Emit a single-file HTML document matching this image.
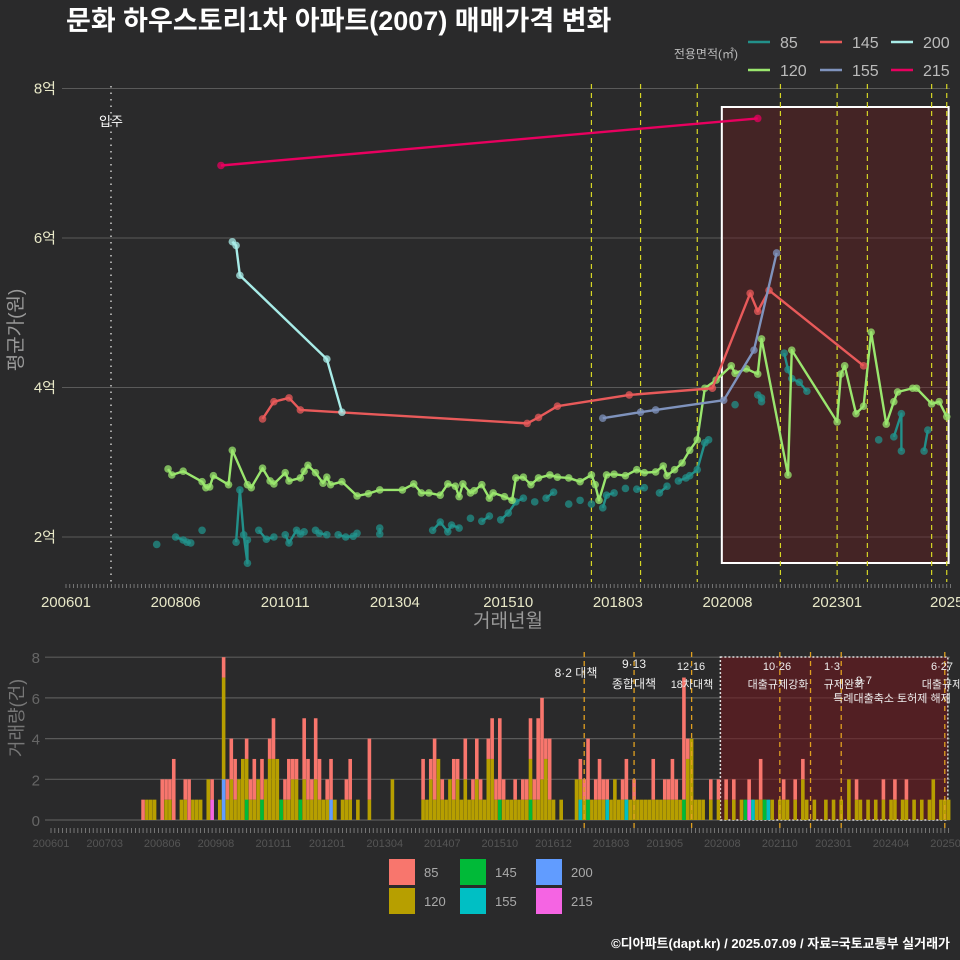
<!DOCTYPE html>
<html><head><meta charset="utf-8">
<style>
html,body{margin:0;padding:0;background:#2a2a2b;}
svg{display:block;font-family:"Liberation Sans","Noto Sans CJK KR",sans-serif;}
</style></head>
<body>
<svg id="c" width="960" height="960" viewBox="0 0 960 960" xmlns="http://www.w3.org/2000/svg">
<rect width="960" height="960" fill="#2a2a2b"/>
<text x="66" y="30" fill="#fff" font-size="27" font-weight="bold">문화 하우스토리1차 아파트(2007) 매매가격 변화</text>
<text x="950" y="948" fill="#fff" font-size="13" font-weight="bold" text-anchor="end">©디아파트(dapt.kr) / 2025.07.09 / 자료=국토교통부 실거래가</text>
<g id="gtop"></g>
<g id="gbot"></g>
<g id="gleg"></g>
</svg>
<script>
// ---- data (month index since 2006-01, value in 억) ----
const s215M=[41,183]; const s215V=[6.97,7.6];
const s200M=[44,45,46,69,73]; const s200V=[5.95,5.9,5.5,4.38,3.67];
const s145M=[52,55,59,62,122,125,130,149,171,181,183,186,211];
const s145V=[3.58,3.81,3.86,3.70,3.52,3.60,3.75,3.90,3.99,5.26,5.02,5.30,4.29];
const s155M=[142,152,156,174,182,188]; const s155V=[3.59,3.67,3.70,3.83,4.50,5.80];
const s120M=[27,28,31,36,37,38,39,43,44,48,49,52,54,55,58,59,62,63,64,66,68,69,70,73,77,80,83,89,92,94,96,99,101,103,104,105,107,108,110,112,113,116,118,119,121,123,125,128,130,133,136,139,140,141,143,145,148,151,153,156,158,159,161,163,165,167,169,172,176,177,180,183,184,191,192,204,205,206,209,211,213,217,219,220,224,225,229,231,233];
const s120V=[2.91,2.83,2.88,2.74,2.66,2.67,2.82,2.70,3.16,2.70,2.66,2.92,2.75,2.71,2.86,2.75,2.79,2.88,2.96,2.86,2.72,2.80,2.70,2.74,2.55,2.58,2.63,2.63,2.71,2.59,2.59,2.56,2.71,2.68,2.54,2.71,2.59,2.62,2.70,2.52,2.59,2.54,2.49,2.79,2.80,2.70,2.79,2.83,2.80,2.79,2.74,2.83,2.70,2.49,2.83,2.84,2.82,2.90,2.86,2.87,2.95,2.82,2.90,2.99,3.16,3.30,3.99,4.10,4.29,4.19,4.25,4.18,4.65,2.83,4.50,3.54,4.18,4.29,3.65,3.75,4.74,3.51,3.81,3.94,3.99,3.99,3.78,3.81,3.61];
const s85M=[24,29,31,32,33,36,45,46,47,48,48,51,53,55,58,59,61,62,63,66,67,69,72,74,76,77,83,83,97,99,101,102,104,107,110,112,115,117,119,121,124,127,129,133,136,139,142,143,145,148,151,153,157,159,162,164,165,167,169,170,177,183,184,184,190,191,192,194,196,215,219,221,221,227,228];
const s85V=[1.9,2.0,1.96,1.93,1.92,2.09,1.93,2.63,2.03,1.65,1.96,2.09,1.97,2.0,2.03,1.92,2.09,2.04,2.07,2.09,2.05,2.03,2.03,2.0,2.01,2.05,2.12,2.04,2.09,2.2,2.07,2.16,2.12,2.25,2.21,2.28,2.23,2.32,2.47,2.52,2.47,2.52,2.6,2.44,2.49,2.44,2.39,2.56,2.59,2.65,2.64,2.66,2.59,2.68,2.75,2.79,2.82,2.90,3.26,3.30,3.77,3.9,3.86,3.81,4.46,4.24,4.12,4.07,3.95,3.30,3.34,3.65,3.15,3.15,3.43];
// ---- volume data ----
const vM=[24,25,26,27,29,30,31,32,34,35,36,37,38,39,41,42,44,45,46,47,48,49,50,51,52,53,54,55,56,57,58,59,60,61,62,63,64,65,66,67,68,69,70,71,72,73,74,76,77,78,80,83,89,97,98,99,100,101,102,103,104,105,106,107,108,109,110,111,112,113,114,115,116,117,118,119,120,121,122,123,124,125,126,127,128,129,130,131,133,137,138,139,140,141,142,143,144,145,146,147,148,149,150,151,152,153,154,155,156,157,158,159,160,161,162,163,164,165,166,167,168,169,170,172,174,176,178,180,182,183,184,185,186,188,190,191,192,194,196,197,199,202,204,206,208,210,211,213,215,217,219,220,222,223,225,227,229,230,232,233,234];
const v85=[1,0,0,0,2,1,1,3,0,1,2,0,0,0,0,1,0,1,1,2,2,0,0,1,1,2,0,2,0,1,2,0,0,1,2,1,1,0,3,2,1,3,2,0,1,2,0,0,1,2,0,3,0,2,0,1,3,0,1,0,0,2,1,0,2,0,1,2,1,0,1,2,1,4,1,0,0,1,0,1,1,2,1,4,4,1,3,0,0,0,1,1,3,0,1,2,1,1,0,0,0,1,2,0,1,0,0,0,0,2,0,0,1,1,2,1,0,6,1,0,0,0,0,1,1,1,1,0,1,0,0,2,0,0,0,1,0,1,1,0,0,0,0,0,0,1,0,0,0,1,0,1,0,1,0,0,0,0,0,0,0];
const v120=[0,1,1,1,0,1,1,0,1,1,0,1,1,1,2,1,1,7,1,2,1,2,3,3,1,1,2,1,2,3,3,3,1,1,1,2,2,1,2,1,1,2,1,1,1,1,1,1,1,1,1,1,2,1,1,2,1,3,1,1,2,1,2,1,2,1,1,2,1,1,3,3,1,1,1,1,1,1,1,1,1,3,1,1,2,3,1,1,1,2,2,1,1,1,1,1,1,1,1,2,1,1,1,1,1,1,1,1,1,1,1,1,1,1,1,1,1,1,3,4,1,1,1,1,1,1,1,1,1,1,1,1,1,1,1,1,1,1,2,1,1,1,1,1,2,1,1,1,1,1,1,1,1,1,1,1,1,2,1,1,1];
const v145M=[51,55,60,65,117,125,140,150,165,181,186]; const v145C=[1,1,1,1,1,1,1,1,1,1,1];
const v155M=[138,145,150,183,187]; const v155C=[1,1,1,1,1];
const v200M=[45,73]; const v200C=[2,1];
const v215M=[42,182]; const v215C=[1,1];
const xTickLabels=["200601","200806","201011","201304","201510","201803","202008","202301","2025"];
const xTickMonths=[0,29,58,87,117,146,175,204,233];
const bTickLabels=["200601","200703","200806","200908","201011","201201","201304","201407","201510","201612","201803","201905","202008","202110","202301","202404","202507"];
const bTickMonths=[0,14,29,43,58,72,87,102,117,131,146,160,175,190,204,219,234];
const yTicks=[2,4,6,8]; const yTickLabels=["2억","4억","6억","8억"];
const bTicks=[0,2,4,6,8];
const policyTop=[139,152,167,189,204,212,229,233];
const policyBotMonths=[139,152,167,190,198,206,233];

// ---- drawing ----
const NS="http://www.w3.org/2000/svg";
const X=m=>66+m*3.78, Y=v=>537-(v-2)*74.75;
const BX=m=>51+m*3.836, BY=c=>820-c*20.35;
function el(t,a,p){const e=document.createElementNS(NS,t);for(const k in a)e.setAttribute(k,a[k]);p.appendChild(e);return e;}
const gTop=document.getElementById('gtop'),gBot=document.getElementById('gbot'),gLeg=document.getElementById('gleg');
const COL={85:"#22908a",120:"#9ae66e",145:"#e85a5a",155:"#7f93bd",200:"#a8ece8",215:"#e8005f"};

yTicks.forEach((v,i)=>{
 const g=el('line',{x1:62,x2:950,y1:Y(v),y2:Y(v),stroke:'#5a5a5a','stroke-width':1},gTop);
 
 const t=el('text',{x:56,y:Y(v)+5,fill:'#e8e8c8','font-size':15,'text-anchor':'end'},gTop);t.textContent=yTickLabels[i];
 
});
let bx=el('rect',{x:X(173.5),y:107,width:X(233.5)-X(173.5),height:456,fill:'rgba(110,25,30,0.38)',stroke:'#fff','stroke-width':2},gTop);

policyTop.forEach(m=>{const l=el('line',{x1:X(m),x2:X(m),y1:84,y2:582,stroke:'#d6d625','stroke-width':1.2,'stroke-dasharray':'5,4'},gTop);
 });
let ml=el('line',{x1:111,x2:111,y1:86,y2:582,stroke:'#ccc','stroke-width':1.5,'stroke-dasharray':'1.5,5'},gTop);

let mt=el('text',{x:111,y:126,fill:'#fff','font-size':13,'text-anchor':'middle'},gTop);mt.textContent='입주';

for(let m=0;m<=234;m++){const l=el('line',{x1:X(m),x2:X(m),y1:584,y2:588,stroke:'#888','stroke-width':0.8},gTop);
 }
xTickLabels.forEach((s,i)=>{const t=el('text',{x:X(xTickMonths[i]),y:607,fill:'#e8e8c8','font-size':15,'text-anchor':'middle'},gTop);t.textContent=s;
 });
let xt=el('text',{x:508,y:627,fill:'#999','font-size':19,'text-anchor':'middle'},gTop);xt.textContent='거래년월';

let yt=el('text',{x:0,y:0,fill:'#999','font-size':19,'text-anchor':'middle',transform:'translate(22,330) rotate(-90)'},gTop);yt.textContent='평균가(원)';


function series(M,V,key,maxGap){
 const g=el('g',{},gTop);
 let seg=[];const segs=[];
 M.forEach((m,i)=>{if(i>0&&m-M[i-1]>maxGap){segs.push(seg);seg=[];}seg.push(X(m)+','+Y(V[i]));});
 segs.push(seg);
 segs.forEach(s=>{if(s.length>1){const p=el('polyline',{points:s.join(' '),fill:'none',stroke:COL[key],'stroke-width':2.4,'stroke-linejoin':'round'},g);
  }});
 M.forEach((m,i)=>{const c=el('circle',{cx:X(m),cy:Y(V[i]),r:3.8,fill:COL[key],'fill-opacity':0.75},g);
  });
}
series(s85M,s85V,85,2);series(s120M,s120V,120,999);series(s145M,s145V,145,999);
series(s155M,s155V,155,999);series(s200M,s200V,200,999);series(s215M,s215V,215,999);

let lt=el('text',{x:738,y:58,fill:'#bbb','font-size':12,'text-anchor':'end'},gLeg);lt.textContent='전용면적(㎡)';

[[85,748,42],[145,820,42],[200,891,42],[120,748,70],[155,820,70],[215,891,70]].forEach(([k,x,y])=>{
 const l=el('line',{x1:x,x2:x+22,y1:y,y2:y,stroke:COL[k],'stroke-width':2.5},gLeg);
 const t=el('text',{x:x+32,y:y+6,fill:'#bbb','font-size':16},gLeg);t.textContent=k;
});

bTicks.forEach(v=>{const l=el('line',{x1:45,x2:950,y1:BY(v),y2:BY(v),stroke:'#5a5a5a','stroke-width':1.2},gBot);
 
 const t=el('text',{x:40,y:BY(v)+6,fill:'#666','font-size':15,'text-anchor':'end'},gBot);t.textContent=v;
 });
let bb=el('rect',{x:BX(174.5),y:657,width:BX(233.8)-BX(174.5),height:163,fill:'rgba(110,25,30,0.6)',stroke:'#ddd','stroke-width':1.5,'stroke-dasharray':'2,2'},gBot);

const bw=3.6;
vM.forEach((m,i)=>{
 const a=v120[i]||0,b=v85[i]||0;
 if(a){const r=el('rect',{x:BX(m)-bw/2,y:BY(a),width:bw,height:BY(0)-BY(a),fill:'#b79f00'},gBot);}
 if(b){const r=el('rect',{x:BX(m)-bw/2,y:BY(a+b),width:bw,height:BY(a)-BY(a+b),fill:'#f8766d'},gBot);}
});
[[v145M,v145C,'#00ba38','145'],[v155M,v155C,'#00bfc4','155'],[v200M,v200C,'#619cff','200'],[v215M,v215C,'#f564e3','215']].forEach(([M,C,col,k])=>{
 M.forEach((m,i)=>{const r=el('rect',{x:BX(m)-bw/2,y:BY(C[i]),width:bw,height:BY(0)-BY(C[i]),fill:col},gBot);
  });});
policyBotMonths.forEach(m=>{
 const l=el('line',{x1:BX(m),x2:BX(m),y1:652,y2:830,stroke:'#e0a020','stroke-width':1.3,'stroke-dasharray':'5,4'},gBot);
 });
[["8·2 대책",576,677,12],["9·13",634,668,12],["종합대책",634,688,12],["12·16",691,670,11],["18차대책",692,688,11],
 ["10·26",777,670,11],["대출규제강화",778,688,11],["1·3",832,670,11],["규제완화",844,688,11],["9·7",864,684,11],
 ["특례대출축소 토허제 해제",892,702,11],["6·27",942,670,11],["대출규제",942,688,11]].forEach(([s,x,y,f])=>{
 const t=el('text',{x:x,y:y,fill:'#eee','font-size':f,'text-anchor':'middle'},gBot);t.textContent=s;
 });
for(let m=0;m<=234;m++){const l=el('line',{x1:BX(m),x2:BX(m),y1:828,y2:833,stroke:'#888','stroke-width':0.8},gBot);
 }
bTickLabels.forEach((s,i)=>{const t=el('text',{x:BX(bTickMonths[i]),y:847,fill:'#555','font-size':11,'text-anchor':'middle'},gBot);t.textContent=s;
 });
let vt=el('text',{x:0,y:0,fill:'#777','font-size':18,'text-anchor':'middle',transform:'translate(23,718) rotate(-90)'},gBot);vt.textContent='거래량(건)';

[['85','#f8766d',402,872],['120','#b79f00',402,901],['145','#00ba38',473,872],['155','#00bfc4',473,901],['200','#619cff',549,872],['215','#f564e3',549,901]].forEach(([k,c,x,y])=>{
 const r=el('rect',{x:x-13,y:y-13,width:26,height:26,fill:c},gLeg);
 const t=el('text',{x:x+22,y:y+5,fill:'#aaa','font-size':13},gLeg);t.textContent=k;
});
</script>
</body></html>
